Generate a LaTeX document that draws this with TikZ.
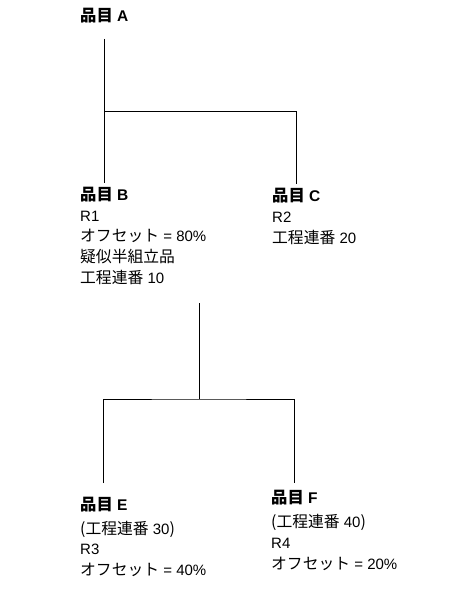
\documentclass[tikz,border=0pt]{standalone}
\usepackage{fontspec}
\setmainfont{Liberation Sans}
\newfontfamily\jpfont{Noto Sans CJK JP}[Scale=1.053]
\usepackage{tikz}
\usetikzlibrary{positioning, calc}
\newcommand{\jp}[1]{{\jpfont #1}}
\tikzset{
  itemname/.style={font=\fontsize{15.5}{20.7}\selectfont\bfseries,
    inner xsep=0pt, inner ysep=3pt, anchor=base west},
  iteminfo/.style={font=\fontsize{15}{20.7}\selectfont, align=left,
    inner sep=0pt, execute at begin node=\strut},
  tree/.style={line width=0.9pt, color=black},
}

\begin{document}
\begin{tikzpicture}[x=1pt, y=1pt]
  \useasboundingbox (0,0) rectangle (471,-592);
  % first level
  \node[itemname] (nameA) at (80,-21) {\jp{品目} A};
  \node[itemname] (nameB) at (80,-200) {\jp{品目} B};
  \node[iteminfo, below right=10.7pt and 0pt of nameB.base west]
    (infoB) {R1\\\jp{オフセット} = 80\%\\\jp{疑似半組立品}\\\jp{工程連番} 10};
  \node[itemname] (nameC) at (272,-201) {\jp{品目} C};
  \node[iteminfo, below right=10.7pt and 0pt of nameC.base west]
    (infoC) {R2\\\jp{工程連番} 20};
  \coordinate (forkA) at (nameA.south |- 0,-111);
  \draw[tree] ([yshift=-13pt]nameA.south) -- (nameB.north);
  \draw[tree] (forkA) -| (nameC.north);
  % second level
  \node[itemname] (nameE) at (80,-510) {\jp{品目} E};
  \node[iteminfo, below right=10.7pt and 0pt of nameE.base west]
    (infoE) {\jp{(工程連番} 30\jp{)}\\R3\\\jp{オフセット} = 40\%};
  \node[itemname] (nameF) at (271,-503.5) {\jp{品目} F};
  \node[iteminfo, below right=10.7pt and 0pt of nameF.base west]
    (infoF) {\jp{(工程連番} 40\jp{)}\\R4\\\jp{オフセット} = 20\%};
  \coordinate (rootB) at (199,-303);
  \coordinate (forkB) at (199,-399);
  \draw[tree] (rootB) -- (forkB);
  \draw[tree] (nameE.north |- 0,-483) |- (forkB) -| (nameF.north |- 0,-483);
\end{tikzpicture}
\end{document}
